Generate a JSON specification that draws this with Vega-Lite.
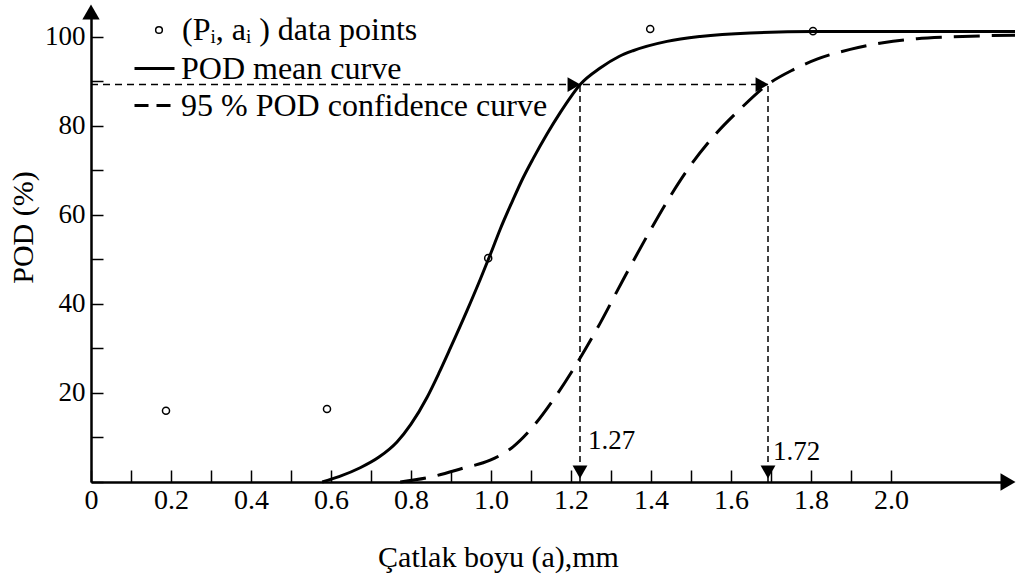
{
  "$schema": "https://vega.github.io/schema/vega-lite/v6.json",
  "width": 917,
  "height": 470,
  "autosize": {"type": "none"},
  "padding": {"left": 91, "top": 12, "right": 11, "bottom": 99},
  "background": "white",
  "config": {
    "view": {"stroke": null},
    "font": "Liberation Serif",
    "axis": {
      "grid": false,
      "domainColor": "black",
      "domainWidth": 2.5,
      "tickColor": "black",
      "tickWidth": 1.5,
      "tickSize": -12,
      "labelColor": "black",
      "titleColor": "black",
      "labelFont": "Liberation Serif",
      "titleFont": "Liberation Serif",
      "titleFontWeight": "normal",
      "labelOverlap": false,
      "labelFlush": false
    },
    "legend": {
      "title": null,
      "orient": "none",
      "padding": 0,
      "labelFontSize": 32,
      "labelFont": "Liberation Serif",
      "labelColor": "black",
      "labelLimit": 700
    }
  },
  "datasets": {
    "mean": [
      {"a": 0.578, "pod": 0, "curve": "POD mean curve"},
      {"a": 0.62, "pod": 1.2, "curve": "POD mean curve"},
      {"a": 0.673, "pod": 3.2, "curve": "POD mean curve"},
      {"a": 0.72, "pod": 5.6, "curve": "POD mean curve"},
      {"a": 0.765, "pod": 9.0, "curve": "POD mean curve"},
      {"a": 0.8, "pod": 13.0, "curve": "POD mean curve"},
      {"a": 0.84, "pod": 19.0, "curve": "POD mean curve"},
      {"a": 0.87, "pod": 24.5, "curve": "POD mean curve"},
      {"a": 0.898, "pod": 30.0, "curve": "POD mean curve"},
      {"a": 0.94, "pod": 38.5, "curve": "POD mean curve"},
      {"a": 0.973, "pod": 45.5, "curve": "POD mean curve"},
      {"a": 1.0, "pod": 51.5, "curve": "POD mean curve"},
      {"a": 1.023, "pod": 56.8, "curve": "POD mean curve"},
      {"a": 1.053, "pod": 63.0, "curve": "POD mean curve"},
      {"a": 1.08, "pod": 68.3, "curve": "POD mean curve"},
      {"a": 1.105, "pod": 72.6, "curve": "POD mean curve"},
      {"a": 1.14, "pod": 78.2, "curve": "POD mean curve"},
      {"a": 1.173, "pod": 83.0, "curve": "POD mean curve"},
      {"a": 1.2, "pod": 86.6, "curve": "POD mean curve"},
      {"a": 1.223, "pod": 89.3, "curve": "POD mean curve"},
      {"a": 1.273, "pod": 93.0, "curve": "POD mean curve"},
      {"a": 1.32, "pod": 95.6, "curve": "POD mean curve"},
      {"a": 1.355, "pod": 96.9, "curve": "POD mean curve"},
      {"a": 1.44, "pod": 99.0, "curve": "POD mean curve"},
      {"a": 1.523, "pod": 100.1, "curve": "POD mean curve"},
      {"a": 1.648, "pod": 100.9, "curve": "POD mean curve"},
      {"a": 1.805, "pod": 101.2, "curve": "POD mean curve"},
      {"a": 2.02, "pod": 101.2, "curve": "POD mean curve"},
      {"a": 2.31, "pod": 101.2, "curve": "POD mean curve"}
    ],
    "conf": [
      {"a": 0.773, "pod": 0, "curve": "95 % POD confidence curve"},
      {"a": 0.848, "pod": 1.1, "curve": "95 % POD confidence curve"},
      {"a": 0.93, "pod": 3.1, "curve": "95 % POD confidence curve"},
      {"a": 0.998, "pod": 4.9, "curve": "95 % POD confidence curve"},
      {"a": 1.055, "pod": 7.9, "curve": "95 % POD confidence curve"},
      {"a": 1.098, "pod": 11.7, "curve": "95 % POD confidence curve"},
      {"a": 1.155, "pod": 18.4, "curve": "95 % POD confidence curve"},
      {"a": 1.215, "pod": 26.7, "curve": "95 % POD confidence curve"},
      {"a": 1.273, "pod": 35.7, "curve": "95 % POD confidence curve"},
      {"a": 1.33, "pod": 45.4, "curve": "95 % POD confidence curve"},
      {"a": 1.398, "pod": 56.5, "curve": "95 % POD confidence curve"},
      {"a": 1.44, "pod": 63.0, "curve": "95 % POD confidence curve"},
      {"a": 1.49, "pod": 70.0, "curve": "95 % POD confidence curve"},
      {"a": 1.555, "pod": 77.5, "curve": "95 % POD confidence curve"},
      {"a": 1.623, "pod": 83.8, "curve": "95 % POD confidence curve"},
      {"a": 1.69, "pod": 89.2, "curve": "95 % POD confidence curve"},
      {"a": 1.755, "pod": 92.6, "curve": "95 % POD confidence curve"},
      {"a": 1.815, "pod": 95.0, "curve": "95 % POD confidence curve"},
      {"a": 1.898, "pod": 97.2, "curve": "95 % POD confidence curve"},
      {"a": 1.98, "pod": 98.7, "curve": "95 % POD confidence curve"},
      {"a": 2.065, "pod": 99.6, "curve": "95 % POD confidence curve"},
      {"a": 2.148, "pod": 100.0, "curve": "95 % POD confidence curve"},
      {"a": 2.31, "pod": 100.4, "curve": "95 % POD confidence curve"}
    ],
    "points": [
      {"a": 0.1875, "pod": 16.0, "series": "(Pᵢ, aᵢ ) data points"},
      {"a": 0.59, "pod": 16.4, "series": "(Pᵢ, aᵢ ) data points"},
      {"a": 0.993, "pod": 50.3, "series": "(Pᵢ, aᵢ ) data points"},
      {"a": 1.398, "pod": 101.8, "series": "(Pᵢ, aᵢ ) data points"},
      {"a": 1.805, "pod": 101.3, "series": "(Pᵢ, aᵢ ) data points"}
    ],
    "level": [{"a": 0, "a2": 1.6925, "pod": 89.3}],
    "cutoffs": [
      {"a": 1.2225, "pod": 0, "pod2": 89.3, "label": "1.27", "arrowA": 1.2075, "labelA": 1.2425, "labelPod": 9.2},
      {"a": 1.6925, "pod": 0, "pod2": 89.3, "label": "1.72", "arrowA": 1.6775, "labelA": 1.705, "labelPod": 6.7}
    ],
    "axisEnds": [{"a": 0, "pod": 105.6}],
    "axisEndsX": [{"a": 2.2925, "pod": 0}]
  },
  "layer": [
    {
      "data": {"name": "mean"},
      "mark": {"type": "line", "strokeWidth": 3, "interpolate": "monotone"},
      "encoding": {
        "x": {
          "field": "a", "type": "quantitative",
          "scale": {"domain": [0, 2.2925], "nice": false, "zero": false},
          "axis": {
            "title": "Çatlak boyu (a),mm",
            "titleFontSize": 30,
            "titleX": 407,
            "titleY": 75,
            "titleBaseline": "middle",
            "titleAlign": "center",
            "values": [0, 0.1, 0.2, 0.3, 0.4, 0.5, 0.6, 0.7, 0.8, 0.9, 1.0, 1.1, 1.2, 1.3, 1.4, 1.5, 1.6, 1.7, 1.8, 1.9, 2.0],
            "labelExpr": "datum.value === 0 ? '0' : (round(datum.value * 10) % 2 === 0 ? format(datum.value, '.1f') : '')",
            "labelFontSize": 28,
            "labelPadding": 16,
            "labelBaseline": "top"
          }
        },
        "y": {
          "field": "pod", "type": "quantitative",
          "scale": {"domain": [0, 105.6], "nice": false},
          "axis": {
            "title": "POD (%)",
            "titleFontSize": 30,
            "titleX": -68,
            "titleY": 215,
            "titleBaseline": "middle",
            "titleAlign": "center",
            "values": [0, 10, 20, 30, 40, 50, 60, 70, 80, 90, 100],
            "labelExpr": "datum.value % 20 === 0 && datum.value > 0 ? datum.label : ''",
            "labelFontSize": 27,
            "labelPadding": 18
          }
        },
        "stroke": {
          "field": "curve", "type": "nominal",
          "scale": {"range": ["black"]},
          "legend": {
            "legendX": 42,
            "legendY": 35,
            "symbolType": "stroke",
            "symbolSize": 1600,
            "symbolStrokeWidth": 3,
            "labelOffset": 5
          }
        }
      }
    },
    {
      "data": {"name": "conf"},
      "mark": {"type": "line", "color": "black", "strokeWidth": 3, "interpolate": "monotone", "strokeDash": [26, 12]},
      "encoding": {
        "x": {"field": "a", "type": "quantitative"},
        "y": {"field": "pod", "type": "quantitative"},
        "opacity": {
          "field": "curve", "type": "nominal",
          "scale": {"range": [1]},
          "legend": {
            "legendX": 42,
            "legendY": 72,
            "symbolType": "stroke",
            "symbolSize": 1600,
            "symbolStrokeWidth": 3,
            "symbolStrokeColor": "black",
            "symbolDash": [14, 8],
            "labelOffset": 5
          }
        }
      }
    },
    {
      "data": {"name": "points"},
      "mark": {"type": "point", "filled": false, "color": "black", "strokeWidth": 1.5, "size": 50, "opacity": 1},
      "encoding": {
        "x": {"field": "a", "type": "quantitative"},
        "y": {"field": "pod", "type": "quantitative"},
        "shape": {
          "field": "series", "type": "nominal",
          "scale": {"range": ["circle"]},
          "legend": {
            "legendX": 52,
            "legendY": 2,
            "symbolSize": 45,
            "symbolStrokeWidth": 1.5,
            "symbolStrokeColor": "black",
            "symbolFillColor": "white",
            "labelOffset": 7
          }
        }
      }
    },
    {
      "data": {"name": "level"},
      "mark": {"type": "rule", "color": "black", "strokeWidth": 1.6, "strokeDash": [7, 5]},
      "encoding": {
        "x": {"field": "a", "type": "quantitative"},
        "x2": {"field": "a2"},
        "y": {"field": "pod", "type": "quantitative"}
      }
    },
    {
      "data": {"name": "cutoffs"},
      "mark": {"type": "rule", "color": "black", "strokeWidth": 1.5, "strokeDash": [6, 4]},
      "encoding": {
        "x": {"field": "a", "type": "quantitative"},
        "y": {"field": "pod", "type": "quantitative"},
        "y2": {"field": "pod2"}
      }
    },
    {
      "data": {"name": "cutoffs"},
      "mark": {"type": "point", "shape": "triangle-right", "filled": true, "color": "black", "size": 220, "opacity": 1},
      "encoding": {
        "x": {"field": "arrowA", "type": "quantitative"},
        "y": {"field": "pod2", "type": "quantitative"}
      }
    },
    {
      "data": {"name": "cutoffs"},
      "mark": {"type": "point", "shape": "triangle-down", "filled": true, "color": "black", "size": 220, "opacity": 1, "yOffset": -10},
      "encoding": {
        "x": {"field": "a", "type": "quantitative"},
        "y": {"field": "pod", "type": "quantitative"}
      }
    },
    {
      "data": {"name": "cutoffs"},
      "mark": {"type": "text", "align": "left", "baseline": "middle", "font": "Liberation Serif", "fontSize": 27, "color": "black"},
      "encoding": {
        "x": {"field": "labelA", "type": "quantitative"},
        "y": {"field": "labelPod", "type": "quantitative"},
        "text": {"field": "label"}
      }
    },
    {
      "data": {"name": "axisEnds"},
      "mark": {"type": "point", "shape": "triangle-up", "filled": true, "color": "black", "size": 300, "opacity": 1},
      "encoding": {
        "x": {"field": "a", "type": "quantitative"},
        "y": {"field": "pod", "type": "quantitative"}
      }
    },
    {
      "data": {"name": "axisEndsX"},
      "mark": {"type": "point", "shape": "triangle-right", "filled": true, "color": "black", "size": 300, "opacity": 1},
      "encoding": {
        "x": {"field": "a", "type": "quantitative"},
        "y": {"field": "pod", "type": "quantitative"}
      }
    }
  ]
}
